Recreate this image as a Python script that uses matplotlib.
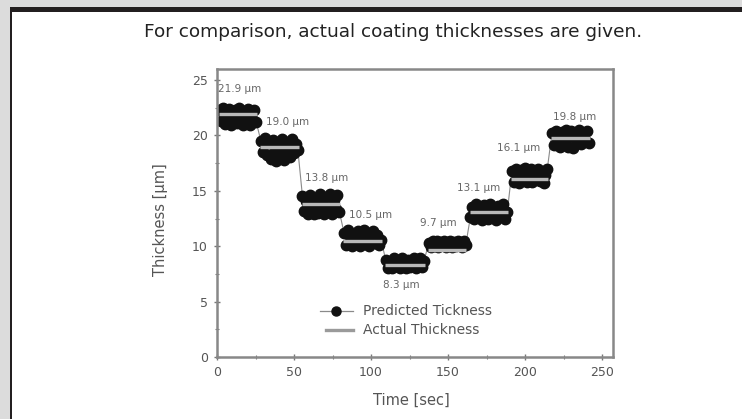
import matplotlib
matplotlib.use("Agg")
import matplotlib.pyplot as plt
from matplotlib.patches import Rectangle
from matplotlib.ticker import MultipleLocator
import numpy as np

W, H = 742, 419

# Coating steps: time bounds [sec] and the actual thickness of each step [µm]
step_bounds = [0, 27, 54, 81, 108, 136, 163, 190, 216, 243]
actual = [21.9, 19.0, 13.8, 10.5, 8.3, 9.7, 13.1, 16.1, 19.8]
step_labels = ["21.9 µm", "19.0 µm", "13.8 µm", "10.5 µm", "8.3 µm",
               "9.7 µm", "13.1 µm", "16.1 µm", "19.8 µm"]
label_x = [0.8, 32, 57, 86, 108, 132, 156, 182, 218]
label_y = [24.2, 21.2, 16.2, 12.8, 6.5, 12.1, 15.3, 18.9, 21.7]

# Predicted thickness readings within each step [µm]
pred_1 = [22.3, 21.3, 22.5, 21.0, 21.8, 22.4, 20.9, 21.6, 22.3, 21.1,
          22.5, 21.4, 20.9, 22.2, 21.7, 22.4, 20.9, 21.5, 22.3, 21.2]
pred_2 = [19.5, 18.5, 19.8, 18.2, 19.3, 17.9, 19.6, 18.6, 17.7, 19.1,
          18.3, 19.7, 17.8, 18.9, 19.4, 18.1, 19.7, 18.4, 19.2, 18.7]
pred_3 = [14.5, 13.2, 14.1, 12.9, 14.6, 13.5, 12.9, 14.3, 13.0, 14.7,
          13.7, 12.9, 14.4, 13.3, 14.7, 12.9, 14.2, 13.4, 14.6, 13.1]
pred_4 = [11.2, 10.1, 11.5, 10.4, 10.0, 11.0, 10.6, 11.4, 10.0, 10.8,
          11.5, 10.2, 11.1, 10.0, 10.7, 11.4, 10.3, 11.0, 10.1, 10.6]
pred_5 = [8.8, 8.0, 8.6, 8.0, 8.9, 8.2, 8.7, 8.0, 8.9, 8.4,
          8.0, 8.8, 8.1, 8.6, 8.9, 8.0, 8.5, 8.9, 8.1, 8.7]
pred_6 = [10.3, 9.9, 10.5, 10.0, 10.5, 9.9, 10.4, 10.1, 10.5, 9.9,
          10.2, 10.5, 9.9, 10.4, 10.0, 10.5, 10.2, 9.9, 10.5, 10.1]
pred_7 = [12.6, 13.5, 12.5, 13.8, 12.9, 13.3, 12.4, 13.7, 13.0, 12.5,
          13.8, 12.8, 13.4, 12.4, 13.6, 12.7, 13.2, 13.8, 12.5, 13.1]
pred_8 = [16.8, 15.8, 17.0, 16.2, 15.7, 16.9, 16.0, 17.1, 15.8, 16.5,
          17.0, 15.8, 16.6, 16.1, 17.0, 15.9, 16.7, 15.7, 16.4, 17.0]
pred_9 = [20.2, 19.1, 20.4, 19.4, 19.0, 20.3, 19.7, 20.5, 19.0, 19.9,
          20.4, 18.9, 20.1, 19.5, 20.5, 19.2, 20.0, 19.6, 20.4, 19.3]
predicted = [pred_1, pred_2, pred_3, pred_4, pred_5, pred_6, pred_7, pred_8, pred_9]

x_ticks = [0, 50, 100, 150, 200, 250]
y_ticks = [0, 5, 10, 15, 20, 25]

title_text = "For comparison, actual coating thicknesses are given."
x_label = "Time [sec]"
y_label = "Thickness [µm]"
legend_labels = ["Predicted Tickness", "Actual Thickness"]

plt.rcParams["font.family"] = ["DejaVu Sans"]

fig = plt.figure(figsize=(W / 100, H / 100), dpi=100)
fig.patch.set_facecolor("white")


def px_rect(x0, y0, w, h, color):
    fig.patches.append(Rectangle((x0 / W, 1 - (y0 + h) / H), w / W, h / H,
                                 transform=fig.transFigure, facecolor=color,
                                 edgecolor="none", zorder=0))


# Page frame: grey margin, dark header rule and left rule
px_rect(0, 0, W, 7, "#dcdcdc")
px_rect(0, 0, 10, H, "#dcdcdc")
px_rect(10, 7, W - 10, 5, "#231f20")
px_rect(10, 7, 2, H - 7, "#231f20")

fig.text(393 / W, 1 - 32 / H, title_text, ha="center", va="center",
         fontsize=13.3, color="#222222")

# Axes box: x = 0 at 217 px, 1.54 px per second; y = 0 at 357 px
x_max, y_max = 257, 26
ax = fig.add_axes([217 / W, 1 - 357 / H, x_max * 1.54 / W, (357 - 69) / H])
ax.set_xlim(0, x_max)
ax.set_ylim(0, y_max)

# Predicted series: one continuous trace across all steps
xs, ys = [], []
for i, vals in enumerate(predicted):
    t = np.linspace(step_bounds[i] + 1.5, step_bounds[i + 1] - 1.5, len(vals))
    xs.extend(t)
    ys.extend(vals)
ax.plot(xs, ys, color="#8a8a8a", lw=0.8, marker="o", ms=7.5,
        mfc="#111111", mec="#111111", zorder=2)

# Actual thickness of each step
for i, a in enumerate(actual):
    ax.plot([step_bounds[i] + 1, step_bounds[i + 1] - 1], [a, a],
            color="#b8b8b8", lw=2.4, solid_capstyle="butt", zorder=3)

for tx, ty, s in zip(label_x, label_y, step_labels):
    ax.text(tx, ty, s, fontsize=7.5, color="#666666", ha="left", va="center")

# Legend drawn by hand in axes units
lx0, lx1, ly, dy = 67, 88, 4.15, 1.75
ax.plot([lx0, lx1], [ly, ly], color="#8a8a8a", lw=0.9, zorder=3)
ax.plot([(lx0 + lx1) / 2], [ly], marker="o", ms=6.5, color="#111111", zorder=4)
ax.plot([lx0 + 4, lx1], [ly - dy] * 2, color="#9a9a9a", lw=2.4, zorder=3)
ax.text(95, ly, legend_labels[0], fontsize=10, color="#555555", va="center")
ax.text(95, ly - dy, legend_labels[1], fontsize=10, color="#555555", va="center")

ax.set_xticks(x_ticks)
ax.set_yticks(y_ticks)
ax.xaxis.set_minor_locator(MultipleLocator(25))
ax.yaxis.set_minor_locator(MultipleLocator(2.5))
ax.tick_params(which="both", direction="inout", color="#777777",
               labelcolor="#555555", labelsize=9, top=False, right=False)
ax.tick_params(which="major", length=5, width=1, pad=4)
ax.tick_params(which="minor", length=3, width=0.8)
for sp in ax.spines.values():
    sp.set_color("#888888")
    sp.set_linewidth(1.8)

ax.set_xlabel(x_label, fontsize=10.5, color="#555555")
ax.set_ylabel(y_label, fontsize=10.5, color="#555555")
ax.xaxis.set_label_coords((411 - 217) / (x_max * 1.54), (357 - 400) / 288)
ax.xaxis.label.set_verticalalignment("center")
ax.yaxis.set_label_coords((160 - 217) / (x_max * 1.54), (357 - 220) / 288)
ax.yaxis.label.set_verticalalignment("center")

fig.savefig("out.png", dpi=100, facecolor=fig.get_facecolor())
